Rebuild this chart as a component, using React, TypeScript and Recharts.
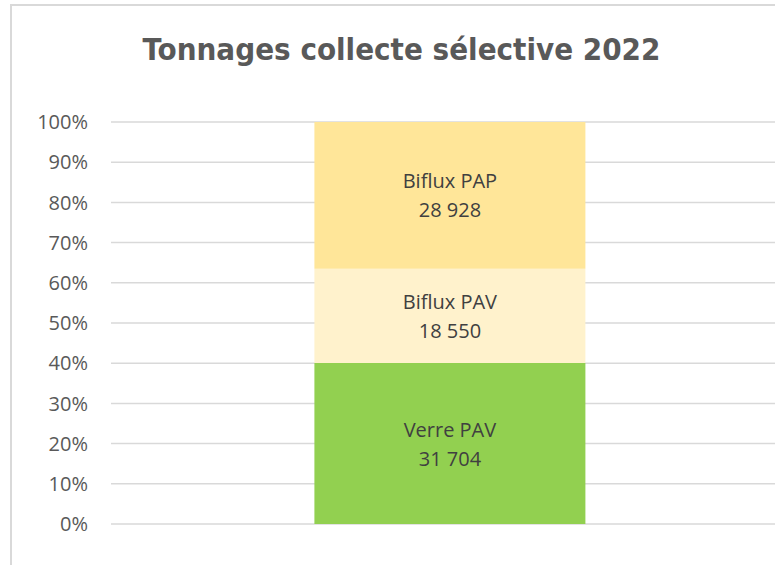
import { BarChart, Bar, XAxis, YAxis, CartesianGrid, LabelList } from 'recharts';

const categories = ['2022'];
const verrePav = [31704];
const bifluxPav = [18550];
const bifluxPap = [28928];
const percentTicks = [0, 0.1, 0.2, 0.3, 0.4, 0.5, 0.6, 0.7, 0.8, 0.9, 1];

const data = categories.map((c, i) => ({
  cat: c,
  verre: verrePav[i],
  bipav: bifluxPav[i],
  bipap: bifluxPap[i],
}));

const fmt = (v: number) => String(v).replace(/\B(?=(\d{3})+(?!\d))/g, ' ');

const makeLabel = (name: string) => (props: any) => {
  const { x, y, width, height, value } = props;
  const cx = Number(x) + Number(width) / 2;
  const cy = Number(y) + Number(height) / 2;
  return (
    <text
      x={cx}
      y={cy}
      textAnchor="middle"
      fill="#404040"
      fontSize={20}
      fontFamily="Open Sans"
    >
      <tspan x={cx} dy={-7}>{name}</tspan>
      <tspan x={cx} dy={29}>{fmt(Number(value))}</tspan>
    </text>
  );
};

export default function App() {
  return (
    <div
      style={{
        position: 'absolute',
        left: 0,
        top: 0,
        width: 775,
        height: 565,
        overflow: 'hidden',
        background: '#fff',
      }}
    >
      <div
        style={{
          position: 'absolute',
          left: 10,
          top: 4,
          width: 800,
          height: 620,
          border: '2px solid #d9d9d9',
        }}
      />
      <div style={{ position: 'absolute', left: 0, top: 0 }}>
        <BarChart
          width={800}
          height={565}
          data={data}
          stackOffset="expand"
          barCategoryGap="30%"
          margin={{ top: 122, right: 11, bottom: 41, left: 0 }}
        >
          <text
            x={401.5}
            y={59.5}
            textAnchor="middle"
            fill="#595959"
            fontFamily="DejaVu Sans Condensed"
            fontWeight="bold"
            fontSize={31}
          >
            Tonnages collecte sélective 2022
          </text>
          <CartesianGrid vertical={false} stroke="#d9d9d9" strokeWidth={1.5} />
          <XAxis dataKey="cat" hide />
          <YAxis
            width={111}
            domain={[0, 1]}
            ticks={percentTicks}
            tickFormatter={(v) => `${Math.round(v * 100)}%`}
            axisLine={false}
            tickLine={false}
            tickSize={0}
            tickMargin={23}
            tick={{ fill: '#595959', fontSize: 20, fontFamily: 'Open Sans' }}
          />
          <Bar dataKey="verre" stackId="a" fill="#92d050" isAnimationActive={false}>
            <LabelList dataKey="verre" content={makeLabel('Verre PAV')} />
          </Bar>
          <Bar dataKey="bipav" stackId="a" fill="#fff2cc" isAnimationActive={false}>
            <LabelList dataKey="bipav" content={makeLabel('Biflux PAV')} />
          </Bar>
          <Bar dataKey="bipap" stackId="a" fill="#ffe699" isAnimationActive={false}>
            <LabelList dataKey="bipap" content={makeLabel('Biflux PAP')} />
          </Bar>
        </BarChart>
      </div>
    </div>
  );
}
